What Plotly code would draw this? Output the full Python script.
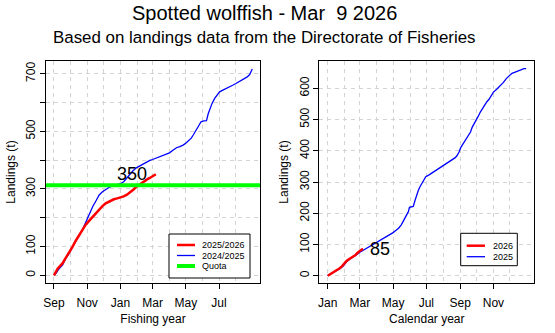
import plotly.graph_objects as go

W, H = 555, 333

# ---------------- data ----------------
# Left panel: fishing year (day 0 = 1 Sep)
fy_month_ticks = [0, 61, 122, 181, 242, 303]
fy_month_labels = ["Sep", "Nov", "Jan", "Mar", "May", "Jul"]
fy_month_grid = [0, 30, 61, 91, 122, 153, 181, 212, 242, 273, 303, 334]

fy_prev_days = [0, 4, 9, 16, 22, 28, 34, 40, 46, 52, 58, 62, 66, 71, 77, 83, 89, 95, 101,
                107, 115, 122, 128, 133, 139, 145, 152, 158, 164, 170, 176, 181, 188, 194,
                200, 206, 212, 219, 225, 231, 237, 243, 248, 252, 256, 261, 266, 270, 275,
                280, 283, 286, 290, 295, 300, 304, 310, 316, 322, 328, 334, 341, 348, 354,
                359, 362, 364]
fy_prev_vals = [0, 7, 22, 36, 60, 76, 98, 122, 140, 157, 183, 198, 218, 238, 258, 279, 290,
                299, 305, 310, 313, 318, 325, 337, 350, 363, 374, 381, 387, 393, 399, 402,
                407, 413, 417, 419, 425, 435, 443, 447, 452, 460, 468, 476, 488, 503, 520,
                533, 536, 537, 560, 576, 596, 614, 628, 637, 643, 648, 654, 660, 666, 673,
                681, 688, 696, 706, 716]

fy_cur_days = [0, 3, 7, 11, 16, 20, 25, 29, 34, 40, 46, 52, 58, 64, 71, 77, 83, 89, 95, 102,
               110, 116, 122, 128, 134, 140, 146, 151, 156, 161, 166, 171, 176, 181, 184, 187]
fy_cur_vals = [0, 10, 24, 32, 42, 55, 70, 84, 99, 120, 140, 158, 175, 188, 203, 215, 227, 240,
               250, 257, 264, 267, 270, 274, 280, 288, 298, 307, 314, 320, 327, 333, 338, 343,
               348, 351]

quota = 313
fy_label_value = 350
fy_label_day = 144

# Right panel: calendar year (day 0 = 1 Jan)
cy_month_ticks = [0, 59, 120, 181, 243, 304]
cy_month_labels = ["Jan", "Mar", "May", "Jul", "Sep", "Nov"]
cy_month_grid = [0, 31, 59, 90, 120, 151, 181, 212, 243, 273, 304, 334]

cy_prev_days = [0, 5, 10, 16, 23, 29, 35, 41, 47, 53, 59, 66, 72, 78, 84, 90, 96, 102, 108,
                114, 120, 126, 130, 135, 139, 142, 145, 148, 150, 154, 157, 160, 163, 166,
                169, 173, 177, 180, 186, 194, 203, 212, 220, 228, 234, 237, 241, 244, 247,
                250, 254, 258, 262, 265, 268, 272, 276, 280, 284, 288, 292, 296, 300, 304,
                310, 316, 322, 328, 333, 338, 344, 350, 356, 360, 364]
cy_prev_vals = [0, 5, 12, 17, 23, 32, 45, 54, 60, 67, 75, 82, 88, 94, 100, 107, 114, 120, 125,
                130, 138, 146, 152, 163, 175, 185, 192, 205, 219, 220, 222, 240, 258, 272,
                284, 296, 306, 317, 323, 332, 343, 354, 362, 370, 378, 384, 396, 410, 418,
                430, 440, 450, 460, 475, 486, 498, 510, 524, 536, 548, 557, 565, 578, 588,
                597, 606, 618, 632, 641, 648, 652, 656, 660, 663, 663]

cy_cur_days = [0, 4, 10, 16, 22, 26, 31, 35, 41, 47, 51, 54, 57, 60, 63, 65]
cy_cur_vals = [0, 4, 11, 18, 24, 30, 40, 48, 55, 61, 66, 72, 78, 81, 84, 85]

cy_label_value = 85
cy_label_day = 96

left_legend = ["2025/2026", "2024/2025", "Quota"]
right_legend = ["2026", "2025"]

# ---------------- styling ----------------
FONT = "Liberation Sans, Arial, Helvetica, sans-serif"
RED, BLUE, GREEN = "#ff0000", "#0000ff", "#00ff00"
GRID = "#d3d3d3"


def px_x(p):
    return p / W


def px_y(p):
    return 1 - p / H


fig = go.Figure()

fig.add_trace(go.Scatter(x=fy_prev_days, y=fy_prev_vals, mode="lines",
                         line=dict(color=BLUE, width=1.3), xaxis="x", yaxis="y",
                         showlegend=False, name="2024/2025"))
fig.add_trace(go.Scatter(x=fy_cur_days, y=fy_cur_vals, mode="lines",
                         line=dict(color=RED, width=2.5), xaxis="x", yaxis="y",
                         showlegend=False, name="2025/2026"))
fig.add_trace(go.Scatter(x=cy_prev_days, y=cy_prev_vals, mode="lines",
                         line=dict(color=BLUE, width=1.3), xaxis="x2", yaxis="y2",
                         showlegend=False, name="2025"))
fig.add_trace(go.Scatter(x=cy_cur_days, y=cy_cur_vals, mode="lines",
                         line=dict(color=RED, width=2.5), xaxis="x2", yaxis="y2",
                         showlegend=False, name="2026"))

common_axis = dict(
    showline=True, mirror=True, linecolor="black", linewidth=1,
    ticks="outside", ticklen=5, tickwidth=1, tickcolor="black",
    zeroline=False, showgrid=True, gridcolor=GRID, gridwidth=1, griddash="4px,4px",
    tickfont=dict(family=FONT, size=12, color="black"),
    automargin=False, fixedrange=True,
)

yd = [px_y(283.3), px_y(60.7)]

fig.update_layout(
    width=W, height=H, autosize=False,
    margin=dict(l=0, r=0, t=0, b=0),
    paper_bgcolor="white", plot_bgcolor="white",
    font=dict(family=FONT, color="black"),
    xaxis=dict(common_axis, domain=[px_x(46), px_x(260)], range=[-14.6, 378.2],
               tickmode="array", tickvals=fy_month_ticks, ticktext=fy_month_labels,
               ticklabelstandoff=3,
               minor=dict(tickmode="array", tickvals=fy_month_grid, showgrid=True,
                          gridcolor=GRID, griddash="4px,4px", ticks=""),
               title=dict(text="Fishing year", font=dict(family=FONT, size=12), standoff=5),
               anchor="y"),
    yaxis=dict(common_axis, domain=yd, range=[-27.8, 745.1],
               tickmode="array", tickvals=[0, 100, 200, 300, 400, 500, 600, 700],
               ticktext=["0", "100", "", "300", "", "500", "", "700"], tickangle=-90,
               title=dict(text="Landings (t)", font=dict(family=FONT, size=12), standoff=6),
               anchor="x"),
    xaxis2=dict(common_axis, domain=[px_x(319.3), px_x(534.3)], range=[-15.4, 379],
                tickmode="array", tickvals=cy_month_ticks, ticktext=cy_month_labels,
                ticklabelstandoff=3,
                minor=dict(tickmode="array", tickvals=cy_month_grid, showgrid=True,
                           gridcolor=GRID, griddash="4px,4px", ticks=""),
                title=dict(text="Calendar year", font=dict(family=FONT, size=12), standoff=5),
                anchor="y2"),
    yaxis2=dict(common_axis, domain=yd, range=[-24.3, 688.4],
                tickmode="array", tickvals=[0, 100, 200, 300, 400, 500, 600],
                ticktext=["0", "100", "200", "300", "400", "500", "600"], tickangle=-90,
                title=dict(text="Landings (t)", font=dict(family=FONT, size=12), standoff=6),
                anchor="x2"),
)

shapes = []
annotations = []

# Quota line across the left panel
shapes.append(dict(type="line", xref="x domain", yref="y", x0=0, x1=1, y0=quota, y1=quota,
                   line=dict(color=GREEN, width=4), layer="above"))

# value labels
annotations.append(dict(x=fy_label_day, y=fy_label_value, xref="x", yref="y",
                        text=str(fy_label_value), showarrow=False,
                        font=dict(family=FONT, size=18, color="black"),
                        xanchor="center", yanchor="middle"))
annotations.append(dict(x=cy_label_day, y=cy_label_value, xref="x2", yref="y2",
                        text=str(cy_label_value), showarrow=False,
                        font=dict(family=FONT, size=18, color="black"),
                        xanchor="center", yanchor="middle"))


def add_legend(box, rows, labels, colors, widths, x_line, x_text):
    x0, y0, x1, y1 = box
    shapes.append(dict(type="rect", xref="paper", yref="paper",
                       x0=px_x(x0), x1=px_x(x1), y0=px_y(y1), y1=px_y(y0),
                       line=dict(color="black", width=1), fillcolor="white", layer="above"))
    for ry, lab, col, lw in zip(rows, labels, colors, widths):
        shapes.append(dict(type="line", xref="paper", yref="paper",
                           x0=px_x(x_line[0]), x1=px_x(x_line[1]), y0=px_y(ry), y1=px_y(ry),
                           line=dict(color=col, width=lw), layer="above"))
        annotations.append(dict(x=px_x(x_text), y=px_y(ry), xref="paper", yref="paper",
                                text=lab, showarrow=False, xanchor="left", yanchor="middle",
                                font=dict(family=FONT, size=9, color="black")))


add_legend((169, 234, 250, 278), [245, 255.5, 266], left_legend,
           [RED, BLUE, GREEN], [2.5, 1.3, 4], (177, 195), (200))
add_legend((460.7, 233.3, 517.3, 265.7), [245.7, 256.7], right_legend,
           [RED, BLUE], [2.5, 1.3], (466.7, 485), (491.5))

# Titles
annotations.append(dict(x=px_x(264), y=px_y(13), xref="paper", yref="paper",
                        text="Spotted wolffish - Mar\u00a0 9 2026", showarrow=False,
                        xanchor="center", yanchor="middle",
                        font=dict(family=FONT, size=20, color="black")))
annotations.append(dict(x=px_x(264), y=px_y(37), xref="paper", yref="paper",
                        text="Based on landings data from the Directorate of Fisheries",
                        showarrow=False, xanchor="center", yanchor="middle",
                        font=dict(family=FONT, size=16.9, color="black")))

fig.update_layout(shapes=shapes, annotations=annotations)

fig.write_html("out.html")
